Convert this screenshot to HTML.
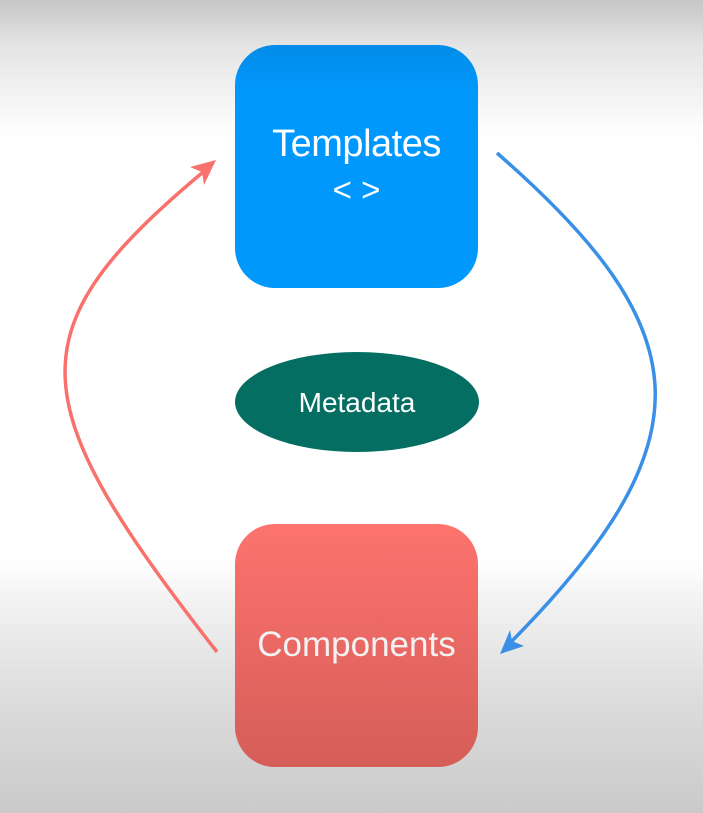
<!DOCTYPE html>
<html><head><style>
html,body{margin:0;padding:0}
body{width:703px;height:813px;position:relative;overflow:hidden;font-family:"Liberation Sans",sans-serif;
background:linear-gradient(to bottom,#c6c6c6 0px,#e4e4e4 45px,#fdfdfd 130px,#fff 150px,#fff 560px,#f0f0f0 610px,#dcdcdc 700px,#cacaca 813px);}
.box{position:absolute;left:235px;width:243px;height:243px;border-radius:40px;color:#fff;text-align:center}
</style></head><body>
<div class="box" style="top:45px;background:linear-gradient(#038ce8,#0098fd 20%,#0098fd);">
<div style="position:absolute;top:78px;width:100%;font-size:38px;letter-spacing:-0.5px">Templates</div>
<div style="position:absolute;top:126px;width:100%;font-size:33px;">&lt; &gt;</div>
</div>
<div class="box" style="top:524px;background:linear-gradient(#fe736e,#d55d58);">
<div style="position:absolute;top:101px;width:100%;font-size:35px;color:#f2f2f2">Components</div>
</div>
<svg width="703" height="813" style="position:absolute;left:0;top:0">
<ellipse cx="357" cy="402" rx="122" ry="50" fill="#056e62"/>
<text x="357" y="412" text-anchor="middle" font-size="28" fill="#fff" font-family="Liberation Sans">Metadata</text>
<path d="M217,652 C20,400 12,330 208,168" stroke="#f8716c" stroke-width="3.5" fill="none"/>
<polygon points="216,160 190,167 202,172 204,185" fill="#f8716c"/>
<path d="M497,153 C700,330 712,440 508,645" stroke="#3a8fe6" stroke-width="3.5" fill="none"/>
<polygon points="500,654 524,646 512,641 510,630" fill="#3a8fe6"/>
</svg>
</body></html>
